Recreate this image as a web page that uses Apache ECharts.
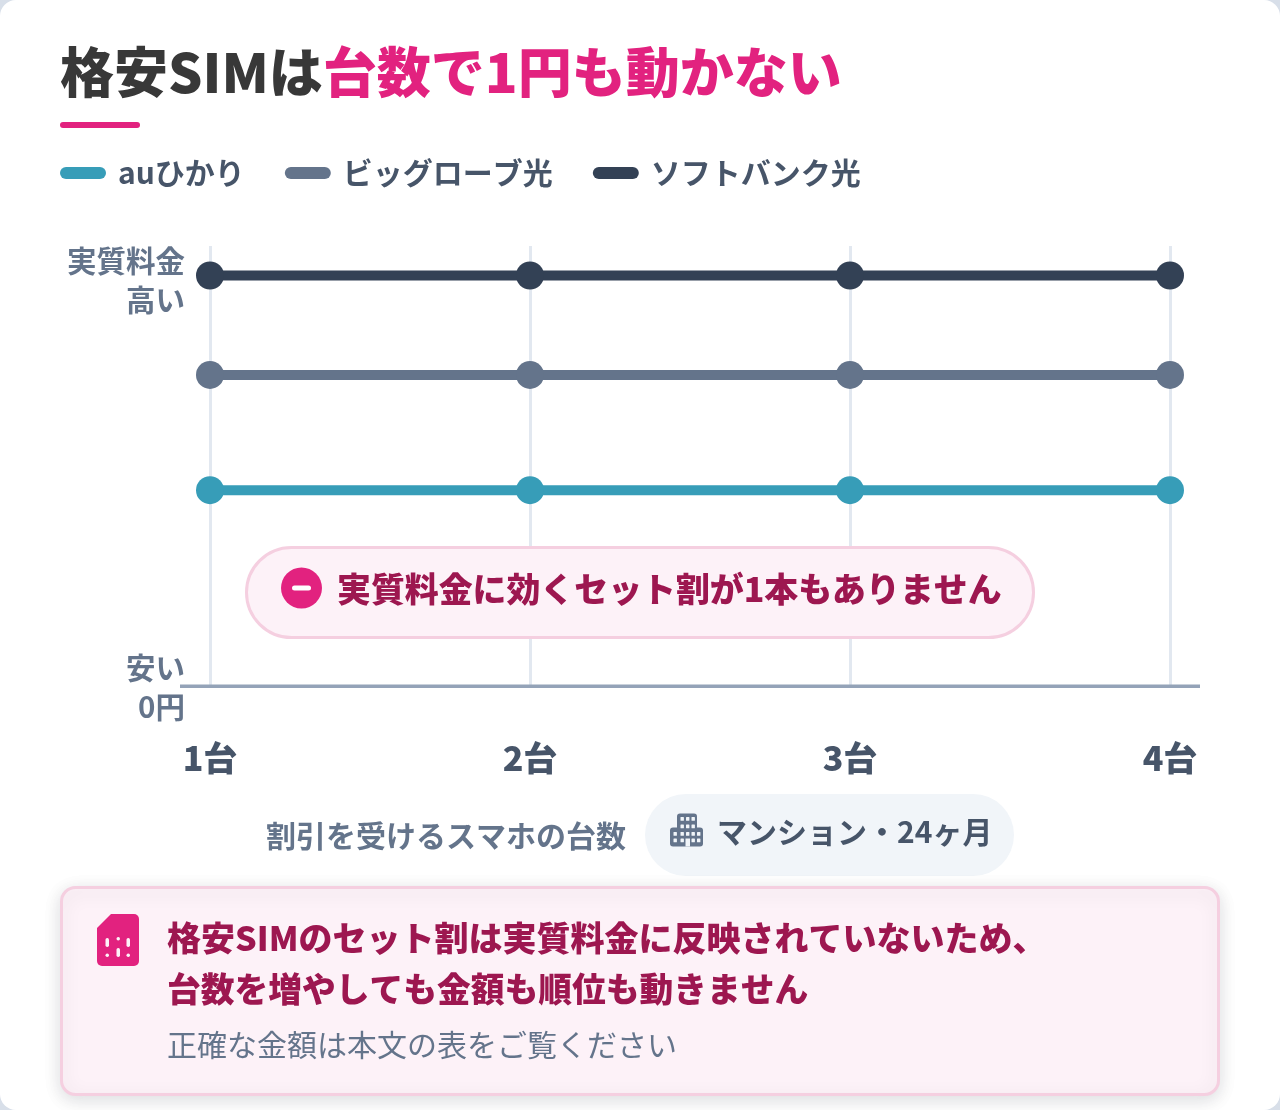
<!DOCTYPE html>
<html>
<head>
<meta charset="utf-8">
<script src="https://cdn.jsdelivr.net/npm/echarts@6/dist/echarts.min.js"></script>
<style>
  html, body { margin: 0; padding: 0; background: #d8dfe9; }
  #chart { width: 1280px; height: 1110px; }
</style>
</head>
<body>
<div id="chart"></div>
<script>
const categories = ['1台', '2台', '3台', '4台']
// 縦軸は目盛なしの相対値（0円=0, 上端=100）
const auValues = [44.5, 44.5, 44.5, 44.5]
const biglobeValues = [70.7, 70.7, 70.7, 70.7]
const softbankValues = [93.3, 93.3, 93.3, 93.3]

const FONT = '"Noto Sans CJK JP", "Noto Sans", sans-serif'
const PINK = '#e2227f'
const CRIMSON = '#9d1750'
const SLATE = '#475569'
const GRAY = '#64748b'
const CHIP = '#f1f5f9'
const BOX = '#fdf2f8'

function text(x, y, str, size, weight, fill, align) {
  return {
    type: 'text', z: 20, x, y,
    style: { text: str, font: `${weight} ${size}px ${FONT}`, fill, align: align || 'left', verticalAlign: 'middle' }
  }
}

function box(x, y, w, h, r, fill, extra, z) {
  return { type: 'rect', z: z || 10, shape: { x, y, width: w, height: h, r }, style: Object.assign({ fill }, extra) }
}

const series = [
  ['auひかり', auValues, '#379db8'],
  ['ビッグローブ光', biglobeValues, GRAY],
  ['ソフトバンク光', softbankValues, '#334155']
].map(([name, data, color]) => ({
  name, data, type: 'line',
  symbol: 'circle', symbolSize: 28,
  lineStyle: { color, width: 10 },
  itemStyle: { color },
  silent: true,
  z: 5
}))

const buildingWindows = [
  [680.5, 817], [686, 817], [691.5, 817],
  [680.5, 824.5], [686, 824.5], [691.5, 824.5],
  [673.5, 832], [680.5, 832], [686, 832], [691.5, 832], [697, 832],
  [673.5, 838.5], [680.5, 838.5], [691.5, 838.5], [697, 838.5]
].map(([x, y]) => box(x, y, 3.4, 3.8, 0.5, CHIP, null, 12))

const graphics = [
  // カード背景
  box(0, 0, 1280, 1110, 16, '#ffffff', null, -10),
  // タイトル下線
  box(60, 122, 80, 6, 3, PINK),
  // 横軸
  box(180, 684.5, 1020, 3.5, 0, '#94a3b8'),
  // 縦軸の注記
  text(185, 261, '実質料金', 29.5, 600, GRAY, 'right'),
  text(185, 300, '高い', 29.5, 600, GRAY, 'right'),
  text(185, 668, '安い', 29.5, 600, GRAY, 'right'),
  text(185, 707, '0円', 29.5, 600, GRAY, 'right'),
  // ピル
  box(246.5, 547.5, 787, 90, 45, BOX, { stroke: '#f5cfe0', lineWidth: 3 }),
  { type: 'circle', z: 12, shape: { cx: 301.5, cy: 588, r: 20.5 }, style: { fill: PINK } },
  box(292, 585.5, 19, 5, 2.5, '#ffffff', null, 13),
  text(337, 589, '実質料金に効くセット割が1本もありません', 33.9, 900, CRIMSON),
  // 軸タイトルと条件チップ
  text(266, 836, '割引を受けるスマホの台数', 30, 600, GRAY),
  box(645, 794, 369, 82, 41, CHIP),
  box(670, 827.5, 33, 19, 3, GRAY, null, 11),
  box(677, 813.5, 20, 20, 3, GRAY, null, 11),
  box(685.5, 838.5, 4.5, 8, 0, CHIP, null, 12),
  ...buildingWindows,
  text(717, 832, 'マンション・24ヶ月', 30, 700, SLATE),
  // 下の説明ボックス
  box(61.5, 887.5, 1157, 207, 14, BOX, { stroke: '#f5cfe0', lineWidth: 3, shadowBlur: 18, shadowColor: 'rgba(15,23,42,0.14)', shadowOffsetY: 4 }),
  box(97, 914, 42, 52, 5, PINK, null, 11),
  { type: 'polygon', z: 12, shape: { points: [[96, 913], [112, 913], [96, 929]] }, style: { fill: BOX } },
  box(105.5, 938, 3.5, 9, 1.7, BOX, null, 12),
  box(105.5, 953.5, 3.5, 3.5, 1.7, BOX, null, 12),
  box(116.5, 937, 3.5, 3.5, 1.7, BOX, null, 12),
  box(116.5, 948, 3.5, 9, 1.7, BOX, null, 12),
  box(126.5, 938, 3.5, 9, 1.7, BOX, null, 12),
  box(126.5, 953.5, 3.5, 3.5, 1.7, BOX, null, 12),
  text(167, 938, '格安SIMのセット割は実質料金に反映されていないため、', 34, 800, CRIMSON),
  text(167, 989, '台数を増やしても金額も順位も動きません', 33.75, 800, CRIMSON),
  text(167, 1045, '正確な金額は本文の表をご覧ください', 30, 400, GRAY)
]

const option = {
  animation: false,
  backgroundColor: 'transparent',
  textStyle: { fontFamily: FONT },
  title: {
    left: 60, top: 45, padding: 0,
    text: '{a|格安SIMは}{b|台数で1円も動かない}',
    textStyle: {
      rich: {
        a: { fontFamily: FONT, fontSize: 54, fontWeight: 900, color: '#383838' },
        b: { fontFamily: FONT, fontSize: 54, fontWeight: 900, color: PINK }
      }
    }
  },
  legend: {
    left: 60, top: 158, padding: 0,
    itemWidth: 46, itemHeight: 13, itemGap: 40,
    icon: 'path://M6 0 L40 0 A6 6 0 0 1 40 12 L6 12 A6 6 0 0 1 6 0 Z',
    textStyle: { fontFamily: FONT, fontSize: 30, fontWeight: 600, color: SLATE, padding: [0, 0, 0, 7] }
  },
  grid: { left: 210, right: 110, top: 246, height: 440 },
  xAxis: {
    type: 'category',
    data: categories,
    boundaryGap: false,
    axisLine: { show: false },
    axisTick: { show: false },
    axisLabel: { color: SLATE, fontFamily: FONT, fontSize: 34, fontWeight: 900, margin: 55, align: 'center', hideOverlap: false, showMinLabel: true, showMaxLabel: true },
    splitLine: { show: true, lineStyle: { color: '#e2e8f0', width: 3 } }
  },
  yAxis: {
    type: 'value', min: 0, max: 100,
    axisLine: { show: false }, axisTick: { show: false },
    axisLabel: { show: false }, splitLine: { show: false }
  },
  series,
  graphic: graphics
}

const myChart = echarts.init(document.getElementById('chart'))
myChart.setOption(option)
</script>
</body>
</html>
